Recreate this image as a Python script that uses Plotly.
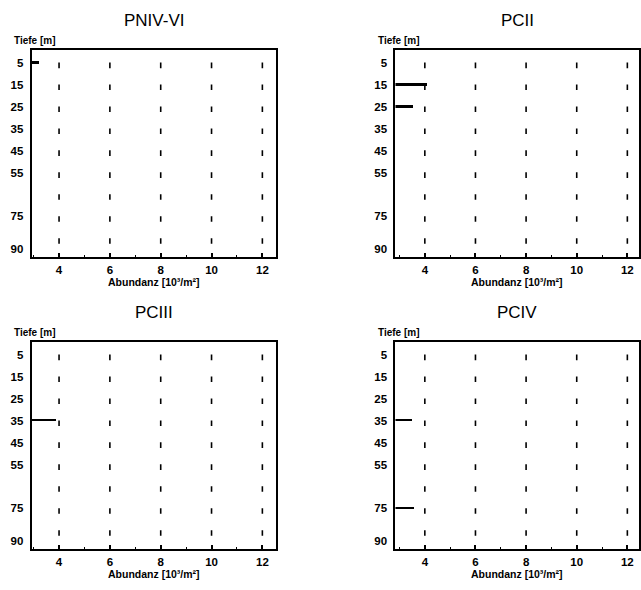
import plotly.graph_objects as go

# ---- data ----
panel_titles = ["PNIV-VI", "PCII", "PCIII", "PCIV"]
row_depths = ["5", "15", "25", "35", "45", "55", "65", "75", "85"]   # sampled layers (rows)
row_index = list(range(len(row_depths)))
ytick_labels = ["5", "15", "25", "35", "45", "55", "75", "90"]
ytick_pos = [0, 1, 2, 3, 4, 5, 7, 8.5]
xtick_vals = [4, 6, 8, 10, 12]

abund_pniv_vi = [3.2, 0, 0, 0, 0, 0, 0, 0, 0]
abund_pcii = [0, 4.1, 3.55, 0, 0, 0, 0, 0, 0]
abund_pciii = [0, 0, 0, 3.85, 0, 0, 0, 0, 0]
abund_pciv = [0, 0, 0, 3.5, 0, 0, 0, 3.6, 0]
series = [abund_pniv_vi, abund_pcii, abund_pciii, abund_pciv]

# ---- layout geometry ----
W, H = 641, 590
xdoms = [[31.7 / W, 276.7 / W], [396.7 / W, 1.0]]
ydoms = [[1 - 257 / H, 1 - 50 / H], [1 - 549 / H, 1 - 342 / H]]
xranges = [[2.92, 12.53], [2.84, 12.46]]
yrange = [8.85, -0.58]

FONT = "Liberation Sans, Arial, sans-serif"

fig = go.Figure()
annotations = []
for i, (title, vals) in enumerate(zip(panel_titles, series)):
    col = i % 2
    row = i // 2
    n = i + 1
    xa = "x" if n == 1 else f"x{n}"
    ya = "y" if n == 1 else f"y{n}"
    # dotted grid (short dashes at each row)
    gx, gy = [], []
    for xv in xtick_vals:
        for r in row_index:
            gx.append(xv)
            gy.append(r + 0.12)
    fig.add_trace(go.Scatter(
        x=gx, y=gy, mode="markers", xaxis=xa, yaxis=ya,
        marker=dict(symbol="line-ns", size=4, line=dict(width=1.6, color="black")),
        hoverinfo="skip", showlegend=False))
    fig.add_trace(go.Bar(
        x=vals, y=row_index, orientation="h", xaxis=xa, yaxis=ya,
        width=0.08 if i != 2 else 0.06, base=0,
        marker=dict(color="black", line=dict(width=0)),
        showlegend=False, hovertemplate="%{x}<extra></extra>"))

    xkey = "xaxis" if n == 1 else f"xaxis{n}"
    ykey = "yaxis" if n == 1 else f"yaxis{n}"
    fig.update_layout(**{
        xkey: dict(domain=xdoms[col], range=xranges[col], anchor=ya,
                   tickvals=xtick_vals, ticks="inside", ticklen=4, tickwidth=1.5,
                   tickcolor="black",
                   minor=dict(dtick=1, tick0=0, ticks="inside", ticklen=2,
                              tickwidth=1, tickcolor="black"),
                   showgrid=False, zeroline=False,
                   showline=True, linecolor="black", linewidth=2, mirror=True,
                   tickfont=dict(family=FONT, size=11.5, color="black", weight="bold"),
                   ticklabelstandoff=1, fixedrange=True),
        ykey: dict(domain=ydoms[row], range=yrange, anchor=xa,
                   tickvals=ytick_pos, ticktext=ytick_labels, ticks="",
                   showgrid=False, zeroline=False,
                   showline=True, linecolor="black", linewidth=2, mirror=True,
                   tickfont=dict(family=FONT, size=11.5, color="black", weight="bold"),
                   ticklabelstandoff=4, fixedrange=True),
    })
    xc = (xdoms[col][0] + xdoms[col][1]) / 2
    ytop = ydoms[row][1]
    ybot = ydoms[row][0]
    annotations.append(dict(text=title, x=xc, y=ytop + 30 / H, xref="paper", yref="paper",
                            showarrow=False, font=dict(family=FONT, size=17, color="black"),
                            xanchor="center", yanchor="middle"))
    annotations.append(dict(text="Tiefe [m]", x=xdoms[col][0] - 20 / W, y=ytop + 10 / H,
                            xref="paper", yref="paper", showarrow=False,
                            font=dict(family=FONT, size=10, color="black", weight="bold"),
                            xanchor="left", yanchor="middle"))
    annotations.append(dict(text="Abundanz [10³/m²]", x=xc, y=ybot - 25 / H,
                            xref="paper", yref="paper", showarrow=False,
                            font=dict(family=FONT, size=10.5, color="black", weight="bold"),
                            xanchor="center", yanchor="middle"))

fig.update_layout(width=W, height=H, margin=dict(l=0, r=0, t=0, b=0),
                  paper_bgcolor="white", plot_bgcolor="white",
                  annotations=annotations, bargap=0, showlegend=False)

fig.write_html("out.html")
